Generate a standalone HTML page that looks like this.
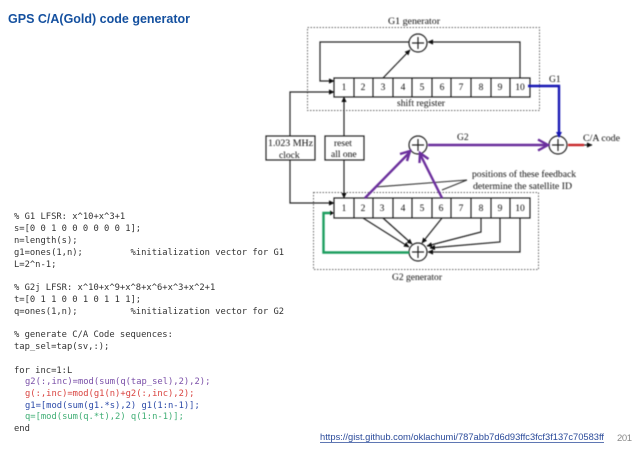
<!DOCTYPE html>
<html><head><meta charset="utf-8"><style>
html,body{margin:0;padding:0;background:#fff}
svg{display:block}
.n{font:9.5px "Liberation Serif",serif;fill:#111;text-anchor:middle}
.l{font:9.5px "Liberation Serif",serif;fill:#111}
.c{font:8.8px "DejaVu Sans Mono",monospace;fill:#333;white-space:pre}
</style></head><body>
<svg width="638" height="451" viewBox="0 0 638 451" xmlns="http://www.w3.org/2000/svg">
<defs>
<filter id="s" filterUnits="userSpaceOnUse" x="0" y="0" width="638" height="451"><feGaussianBlur stdDeviation="0.45"/></filter>
<filter id="t" filterUnits="userSpaceOnUse" x="0" y="0" width="638" height="451"><feGaussianBlur stdDeviation="0.2"/></filter>
<marker id="b" markerWidth="6" markerHeight="6" refX="5" refY="3" orient="auto" markerUnits="userSpaceOnUse"><path d="M0,0.4L5.5,3L0,5.6z" fill="#111"/></marker>
</defs>
<rect width="638" height="451" fill="#fff"/>
<text x="8" y="23" font-family="Liberation Sans,sans-serif" font-weight="bold" font-size="12.5" fill="#14509f" textLength="182" lengthAdjust="spacingAndGlyphs">GPS C/A(Gold) code generator</text>

<g filter="url(#s)">
<rect x="307.500" y="27.500" width="232" height="83" fill="none" stroke="#666" stroke-dasharray="1.500 1.500"/>
<rect x="313.500" y="192.500" width="225" height="77" fill="none" stroke="#666" stroke-dasharray="1.500 1.500"/>

<g fill="none" stroke="#222" stroke-width="1.200">
<rect x="334" y="78" width="196" height="19"/>
<path d="M354 78v19M373 78v19M393 78v19M412 78v19M432 78v19M451 78v19M471 78v19M491 78v19M510 78v19"/>
<rect x="334" y="198" width="196" height="20"/>
<path d="M354 198v20M373 198v20M393 198v20M412 198v20M432 198v20M451 198v20M471 198v20M491 198v20M510 198v20"/>
<rect x="266" y="136" width="49" height="24"/>
<rect x="325" y="136" width="39" height="24"/>
<circle cx="418" cy="43" r="9"/>
<circle cx="418" cy="145" r="9"/>
<circle cx="558" cy="145" r="9"/>
<circle cx="418" cy="252" r="9"/>
<path d="M418 37v12M412 43h12M418 139v12M412 145h12M558 139v12M552 145h12M418 246v12M412 252h12"/>
</g>

<g fill="none" stroke="#222" stroke-width="1.200" marker-end="url(#b)">
<path d="M409 42H320V81H334"/>
<path d="M520 78V42H428"/>
<path d="M383 78L410 50"/>
<path d="M290 136V92H334"/>
<path d="M344 136V97"/>
<path d="M290 160V203H334"/>
<path d="M344 160V198"/>
<path d="M363 218L409 247"/>
<path d="M383 218L412 244"/>
<path d="M442 218L422 243"/>
<path d="M481 218V232L427 246"/>
<path d="M500 218V242L430 248"/>
<path d="M520 218V252H428"/>
<path d="M568 145H592"/>
</g>
<path d="M467 180L375 187M467 180L442 190" fill="none" stroke="#333" stroke-width="1.100"/>

<path d="M409 252.500H323.500V213H332" fill="none" stroke="#1f9e5f" stroke-width="2.400"/>
<path d="M334 213l-4-2.500v5z" fill="#111"/>
<path d="M528 86H559V134" fill="none" stroke="#1414b4" stroke-width="2.400"/>
<path d="M559 138l-3-6h6z" fill="#1414b4"/>
<path d="M568 145H584" stroke="#c8262a" stroke-width="2.400" fill="none"/>

<g fill="none" stroke="#6a2f9c" stroke-width="2.400">
<path d="M428 145H546"/>
<path d="M538 139.500L548 145L538 150.500"/>
<path d="M365 198L410 152"/>
<path d="M400 154L410 151L407 161"/>
<path d="M442 198L420 154"/>
<path d="M419.500 163L420 153L428.500 159"/>
</g>

<text class="n" x="344" y="90">1</text><text class="n" x="363" y="90">2</text><text class="n" x="383" y="90">3</text><text class="n" x="403" y="90">4</text><text class="n" x="422" y="90">5</text><text class="n" x="442" y="90">6</text><text class="n" x="461" y="90">7</text><text class="n" x="481" y="90">8</text><text class="n" x="500" y="90">9</text><text class="n" x="520" y="90">10</text>
<text class="n" x="344" y="211">1</text><text class="n" x="363" y="211">2</text><text class="n" x="382" y="211">3</text><text class="n" x="403" y="211">4</text><text class="n" x="422" y="211">5</text><text class="n" x="441" y="211">6</text><text class="n" x="461" y="211">7</text><text class="n" x="481" y="211">8</text><text class="n" x="500" y="211">9</text><text class="n" x="520" y="211">10</text>
<text class="l" x="388" y="24" textLength="52" lengthAdjust="spacingAndGlyphs">G1 generator</text>
<text class="l" x="397" y="106" textLength="48" lengthAdjust="spacingAndGlyphs">shift register</text>
<text class="l" x="549" y="82">G1</text>
<text class="l" x="457" y="140">G2</text>
<text class="l" x="583" y="141" textLength="37" lengthAdjust="spacingAndGlyphs">C/A code</text>
<text class="l" x="268" y="146" textLength="45" lengthAdjust="spacingAndGlyphs">1.023 MHz</text>
<text class="l" x="279" y="158">clock</text>
<text class="l" x="334" y="146">reset</text>
<text class="l" x="331" y="157">all one</text>
<text class="l" x="472" y="177" textLength="104" lengthAdjust="spacingAndGlyphs">positions of these feedback</text>
<text class="l" x="473" y="189" textLength="99" lengthAdjust="spacingAndGlyphs">determine the satellite ID</text>
<text class="l" x="392" y="280" textLength="50" lengthAdjust="spacingAndGlyphs">G2 generator</text>
</g>

<g filter="url(#t)">
<text class="c" x="14" y="219">% G1 LFSR: x^10+x^3+1</text>
<text class="c" x="14" y="231">s=[0 0 1 0 0 0 0 0 0 1];</text>
<text class="c" x="14" y="243">n=length(s);</text>
<text class="c" x="14" y="255">g1=ones(1,n);         %initialization vector for G1</text>
<text class="c" x="14" y="267">L=2^n-1;</text>
<text class="c" x="14" y="290">% G2j LFSR: x^10+x^9+x^8+x^6+x^3+x^2+1</text>
<text class="c" x="14" y="302">t=[0 1 1 0 0 1 0 1 1 1];</text>
<text class="c" x="14" y="314">q=ones(1,n);          %initialization vector for G2</text>
<text class="c" x="14" y="337">% generate C/A Code sequences:</text>
<text class="c" x="14" y="349">tap_sel=tap(sv,:);</text>
<text class="c" x="14" y="373">for inc=1:L</text>
<text class="c" x="25" y="384" style="fill:#7a4fa8">g2(:,inc)=mod(sum(q(tap_sel),2),2);</text>
<text class="c" x="25" y="396" style="fill:#d9433f">g(:,inc)=mod(g1(n)+g2(:,inc),2);</text>
<text class="c" x="25" y="408" style="fill:#2c4aa8">g1=[mod(sum(g1.*s),2) g1(1:n-1)];</text>
<text class="c" x="25" y="419" style="fill:#3fae74">q=[mod(sum(q.*t),2) q(1:n-1)];</text>
<text class="c" x="14" y="431">end</text>
</g>

<text x="320" y="440" font-family="Liberation Sans,sans-serif" font-size="9.500" fill="#2a4a9a" textLength="284" lengthAdjust="spacingAndGlyphs">https://gist.github.com/oklachumi/787abb7d6d93ffc3fcf3f137c70583ff</text>
<path d="M320 442.500H604" stroke="#2a4a9a" stroke-width="0.800"/>
<text x="617" y="441" font-family="Liberation Sans,sans-serif" font-size="9.500" fill="#8a8a8a" textLength="15">201</text>
</svg>
</body></html>
